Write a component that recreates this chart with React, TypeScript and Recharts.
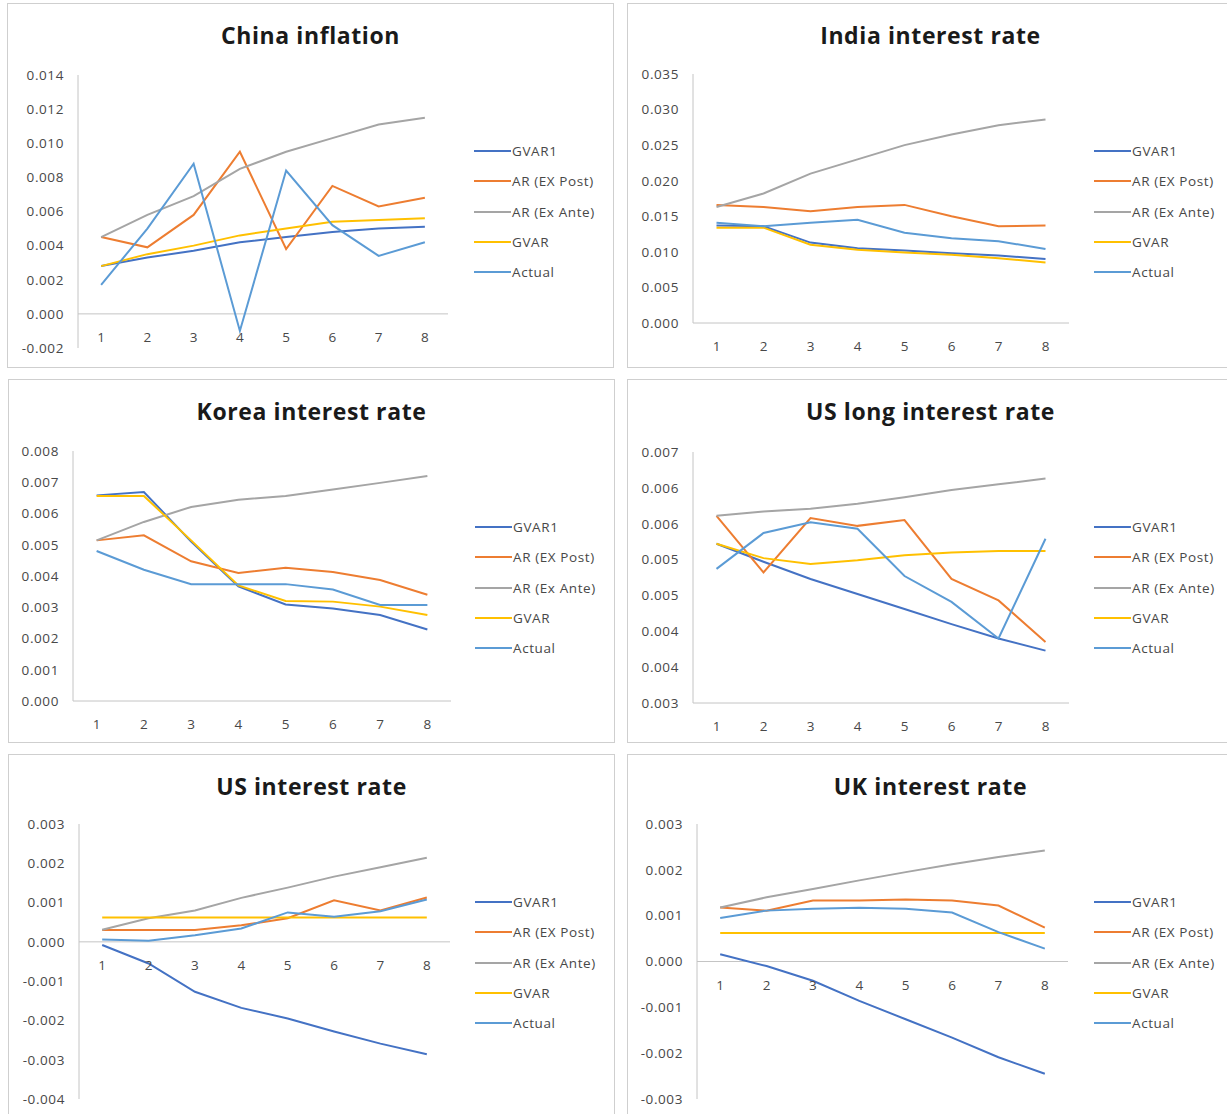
import { LineChart, Line, XAxis, YAxis, ReferenceLine } from "recharts";

const periods = ["1", "2", "3", "4", "5", "6", "7", "8"];
const seriesNames = ["GVAR1", "AR (EX Post)", "AR (Ex Ante)", "GVAR", "Actual"];
const seriesColors = ["#4472C4", "#ED7D31", "#A5A5A5", "#FFC000", "#5B9BD5"];

// China inflation
const chinaGvar1 = [0.0028, 0.0033, 0.0037, 0.0042, 0.0045, 0.0048, 0.005, 0.0051];
const chinaArPost = [0.0045, 0.0039, 0.0058, 0.0095, 0.0038, 0.0075, 0.0063, 0.0068];
const chinaArAnte = [0.0045, 0.0058, 0.0069, 0.0085, 0.0095, 0.0103, 0.0111, 0.0115];
const chinaGvar = [0.0028, 0.0035, 0.004, 0.0046, 0.005, 0.0054, 0.0055, 0.0056];
const chinaActual = [0.0017, 0.005, 0.0088, -0.001, 0.0084, 0.0052, 0.0034, 0.0042];
const chinaTicks = [-0.002, 0, 0.002, 0.004, 0.006, 0.008, 0.01, 0.012, 0.014];

// India interest rate
const indiaGvar1 = [0.0137, 0.0136, 0.0113, 0.0105, 0.0102, 0.0098, 0.0095, 0.009];
const indiaArPost = [0.0166, 0.0163, 0.0157, 0.0163, 0.0166, 0.015, 0.0136, 0.0137];
const indiaArAnte = [0.0163, 0.0182, 0.021, 0.023, 0.025, 0.0265, 0.0278, 0.0286];
const indiaGvar = [0.0134, 0.0134, 0.011, 0.0103, 0.0099, 0.0096, 0.0091, 0.0085];
const indiaActual = [0.0141, 0.0136, 0.0141, 0.0145, 0.0127, 0.0119, 0.0115, 0.0104];
const indiaTicks = [0, 0.005, 0.01, 0.015, 0.02, 0.025, 0.03, 0.035];

// Korea interest rate
const koreaGvar1 = [0.00658, 0.00669, 0.0051, 0.00367, 0.00309, 0.00296, 0.00275, 0.00229];
const koreaArPost = [0.00514, 0.0053, 0.00447, 0.0041, 0.00426, 0.00413, 0.00387, 0.0034];
const koreaArAnte = [0.00514, 0.00573, 0.00621, 0.00644, 0.00656, 0.00677, 0.00698, 0.0072];
const koreaGvar = [0.00656, 0.00656, 0.00514, 0.0037, 0.0032, 0.00318, 0.00302, 0.00275];
const koreaActual = [0.0048, 0.0042, 0.00374, 0.00374, 0.00374, 0.00357, 0.00307, 0.00307];
const koreaTicks = [0, 0.001, 0.002, 0.003, 0.004, 0.005, 0.006, 0.007, 0.008];

// US long interest rate
const usLongGvar1 = [0.00572, 0.00547, 0.00523, 0.00502, 0.00481, 0.0046, 0.0044, 0.00423];
const usLongArPost = [0.00611, 0.00532, 0.00608, 0.00597, 0.00605, 0.00523, 0.00493, 0.00435];
const usLongArAnte = [0.00611, 0.00617, 0.00621, 0.00628, 0.00637, 0.00647, 0.00655, 0.00663];
const usLongGvar = [0.00572, 0.00552, 0.00544, 0.00549, 0.00556, 0.0056, 0.00562, 0.00562];
const usLongActual = [0.00537, 0.00587, 0.00602, 0.00593, 0.00527, 0.00491, 0.0044, 0.00579];
const usLongTicks = [0.0035, 0.004, 0.0045, 0.005, 0.0055, 0.006, 0.0065, 0.007];
const usLongTickLabels = ["0.003", "0.004", "0.004", "0.005", "0.005", "0.006", "0.006", "0.007"];

// US interest rate
const usGvar1 = [-0.00008, -0.00055, -0.00127, -0.00168, -0.00195, -0.00228, -0.00259, -0.00286];
const usArPost = [0.0003, 0.0003, 0.0003, 0.00042, 0.0006, 0.00106, 0.0008, 0.00113];
const usArAnte = [0.00031, 0.0006, 0.0008, 0.00112, 0.00138, 0.00166, 0.0019, 0.00214];
const usGvar = [0.00062, 0.00062, 0.00062, 0.00062, 0.00062, 0.00062, 0.00062, 0.00062];
const usActual = [0.00006, 0.00003, 0.00017, 0.00034, 0.00075, 0.00064, 0.00078, 0.00108];
const usTicks = [-0.004, -0.003, -0.002, -0.001, 0, 0.001, 0.002, 0.003];

// UK interest rate
const ukGvar1 = [0.00016, -0.0001, -0.00042, -0.00086, -0.00126, -0.00166, -0.00209, -0.00245];
const ukArPost = [0.00118, 0.00111, 0.00133, 0.00133, 0.00135, 0.00133, 0.00122, 0.00074];
const ukArAnte = [0.00118, 0.0014, 0.00158, 0.00177, 0.00195, 0.00212, 0.00228, 0.00242];
const ukGvar = [0.00062, 0.00062, 0.00062, 0.00062, 0.00062, 0.00062, 0.00062, 0.00062];
const ukActual = [0.00095, 0.00111, 0.00115, 0.00117, 0.00115, 0.00107, 0.00064, 0.00028];
const ukTicks = [-0.003, -0.002, -0.001, 0, 0.001, 0.002, 0.003];

const FONT = "'Open Sans', sans-serif";
const TEXT = "#484848";
const W = 607;
const H = 365;
const AXIS_H = 10;

type Plot = { l: number; t: number; r: number; b: number };
type PanelProps = {
  title: string;
  x: number;
  y: number;
  h: number;
  plot: Plot;
  ticks: number[];
  tickLabels?: string[];
  series: number[][];
};

function buildRows(series: number[][]) {
  return periods.map((p, i) => {
    const row: Record<string, string | number> = { period: p };
    series.forEach((s, k) => (row["s" + k] = s[i]));
    return row;
  });
}

function Panel({ title, x, y, h, plot, ticks, tickLabels, series }: PanelProps) {
  const rows = buildRows(series);
  const min = ticks[0];
  const max = ticks[ticks.length - 1];
  const band = (plot.r - plot.l) / periods.length;
  // horizontal axis sits at zero when the scale goes negative
  const baseVal = min < 0 ? 0 : min;
  const shift = -((baseVal - min) / (max - min)) * (plot.b - plot.t);
  const fmt = (v: number, i: number) => (tickLabels ? tickLabels[i] : v.toFixed(3));

  return (
    <div style={{ position: "absolute", left: x, top: y, width: W, height: h }}>
      <div
        style={{
          position: "absolute",
          inset: 0,
          border: "1px solid #cfcfcf",
          boxSizing: "border-box",
        }}
      />
      <div
        style={{
          position: "absolute",
          left: 0,
          top: 21,
          width: W,
          textAlign: "center",
          fontFamily: FONT,
          fontWeight: 700,
          fontSize: 23,
          lineHeight: "23px",
          letterSpacing: 0.6,
          color: "#1a1a1a",
        }}
      >
        {title}
      </div>
      <div style={{ position: "absolute", left: 0, top: 0 }}>
        <LineChart
          width={W}
          height={H}
          data={rows}
          margin={{ top: plot.t, right: W - plot.r, bottom: H - plot.b - AXIS_H, left: 0 }}
        >
          <XAxis
            dataKey="period"
            height={AXIS_H}
            axisLine={false}
            tickLine={false}
            tickSize={0}
            tickMargin={0}
            interval={0}
            padding={{ left: band / 2, right: band / 2 }}
            tick={(p: any) => (
              <text
                x={p.x}
                y={p.y + shift + 23}
                textAnchor="middle"
                dominantBaseline="central"
                fontFamily={FONT}
                fontSize={13.5}
                fill={TEXT}
              >
                {p.payload.value}
              </text>
            )}
          />
          <YAxis
            width={plot.l}
            domain={[min, max]}
            ticks={ticks}
            interval={0}
            allowDataOverflow
            axisLine={{ stroke: "#c4c4c4" }}
            tickLine={false}
            tickSize={0}
            tickMargin={14}
            tickFormatter={fmt}
            tick={{ fontFamily: FONT, fontSize: 13.5, fill: TEXT, letterSpacing: 0.6 }}
          />
          <ReferenceLine y={baseVal} stroke="#c4c4c4" strokeWidth={1} />
          {series.map((_, k) => (
            <Line
              key={k}
              dataKey={"s" + k}
              stroke={seriesColors[k]}
              strokeWidth={2}
              dot={false}
              isAnimationActive={false}
            />
          ))}
        </LineChart>
      </div>
      <div style={{ position: "absolute", left: 467, top: 133 }}>
        {seriesNames.map((name, k) => (
          <div
            key={name}
            style={{ display: "flex", alignItems: "center", height: 30.3 }}
          >
            <span
              style={{ display: "inline-block", width: 37, height: 2, background: seriesColors[k] }}
            />
            <span
              style={{
                marginLeft: 1,
                fontFamily: FONT,
                fontSize: 13.5,
                letterSpacing: 0.6,
                color: TEXT,
              }}
            >
              {name}
            </span>
          </div>
        ))}
      </div>
    </div>
  );
}

export default function App() {
  return (
    <div
      style={{
        position: "absolute",
        left: 0,
        top: 0,
        width: 1227,
        height: 1114,
        overflow: "hidden",
        background: "#fff",
      }}
    >
      <Panel
        title="China inflation"
        x={7}
        y={3}
        h={365}
        plot={{ l: 71, t: 72, r: 441, b: 345 }}
        ticks={chinaTicks}
        series={[chinaGvar1, chinaArPost, chinaArAnte, chinaGvar, chinaActual]}
      />
      <Panel
        title="India interest rate"
        x={627}
        y={3}
        h={365}
        plot={{ l: 66, t: 71, r: 442, b: 320 }}
        ticks={indiaTicks}
        series={[indiaGvar1, indiaArPost, indiaArAnte, indiaGvar, indiaActual]}
      />
      <Panel
        title="Korea interest rate"
        x={8}
        y={379}
        h={364}
        plot={{ l: 65, t: 72, r: 443, b: 322 }}
        ticks={koreaTicks}
        series={[koreaGvar1, koreaArPost, koreaArAnte, koreaGvar, koreaActual]}
      />
      <Panel
        title="US long interest rate"
        x={627}
        y={379}
        h={364}
        plot={{ l: 66, t: 73, r: 442, b: 324 }}
        ticks={usLongTicks}
        tickLabels={usLongTickLabels}
        series={[usLongGvar1, usLongArPost, usLongArAnte, usLongGvar, usLongActual]}
      />
      <Panel
        title="US interest rate"
        x={8}
        y={754}
        h={365}
        plot={{ l: 71, t: 70, r: 442, b: 345 }}
        ticks={usTicks}
        series={[usGvar1, usArPost, usArAnte, usGvar, usActual]}
      />
      <Panel
        title="UK interest rate"
        x={627}
        y={754}
        h={365}
        plot={{ l: 70, t: 70, r: 441, b: 345 }}
        ticks={ukTicks}
        series={[ukGvar1, ukArPost, ukArAnte, ukGvar, ukActual]}
      />
    </div>
  );
}
